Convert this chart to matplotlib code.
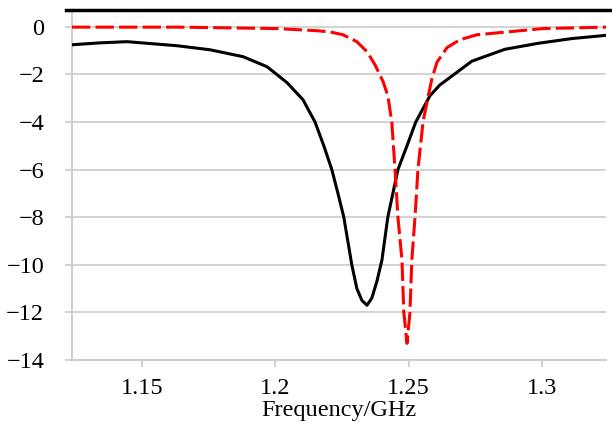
import matplotlib
matplotlib.use('Agg')
import matplotlib.pyplot as plt
from matplotlib.lines import Line2D

plt.rcParams['font.family'] = ['Liberation Serif', 'DejaVu Serif']

# Frequency (GHz) and S11 (dB)
freq_black = [1.1238, 1.1343, 1.1444, 1.1631, 1.1755, 1.1879, 1.1969, 1.2044,
              1.2104, 1.2149, 1.2182, 1.2212, 1.2235, 1.2257, 1.2272, 1.2287,
              1.2306, 1.2325, 1.2344, 1.2362, 1.2381, 1.2400, 1.2422, 1.2441,
              1.2460, 1.2494, 1.2527, 1.2580, 1.2617, 1.2737, 1.2861, 1.2985,
              1.3112, 1.3244]
s11_black = [-0.76, -0.68, -0.63, -0.80, -0.97, -1.26, -1.68, -2.35,
             -3.07, -4.0, -5.0, -6.0, -7.0, -8.0, -9.0, -10.0,
             -11.0, -11.5, -11.7, -11.4, -10.7, -9.8, -8.0, -7.0,
             -6.0, -5.0, -4.0, -2.9, -2.45, -1.45, -0.95, -0.7,
             -0.5, -0.36]

freq_red = [1.1238, 1.1642, 1.2006, 1.2156, 1.2205, 1.2254, 1.2306, 1.2344,
            1.2374, 1.2404, 1.2422, 1.2437, 1.2449, 1.2460, 1.2475, 1.2482,
            1.2494, 1.2505, 1.2512, 1.2524, 1.2535, 1.2554, 1.2572, 1.2587,
            1.2606, 1.2644, 1.2692, 1.2756, 1.2880, 1.3004, 1.3244]
s11_red = [-0.02, -0.02, -0.08, -0.17, -0.22, -0.34, -0.63, -1.05,
           -1.6, -2.3, -2.9, -4.0, -6.0, -8.0, -9.8, -12.0,
           -13.3, -12.0, -9.8, -8.0, -6.0, -4.0, -3.0, -2.2,
           -1.5, -0.88, -0.55, -0.34, -0.21, -0.08, -0.02]

x_ticks = [1.15, 1.2, 1.25, 1.3]
x_tick_labels = ['1.15', '1.2', '1.25', '1.3']
y_ticks = [0, -2, -4, -6, -8, -10, -12, -14]

fig = plt.figure(figsize=(6.12, 4.30), dpi=100)
ax = fig.add_axes([72 / 612, 1 - 360 / 430, (606 - 72) / 612, (360 - 10) / 430])

# сетка
for y in y_ticks[:-1]:
    ax.axhline(y, color='#cfcfcf', lw=1.3, zorder=0)

ax.plot(freq_black, s11_black, color='black', lw=2.2, zorder=3,
        solid_joinstyle='round')
ax.plot(freq_red, s11_red, color='#ff0000', lw=2.2, dashes=(6, 1.7), zorder=4)

ax.set_xlim(1.1238, 1.324)
ax.set_ylim(-14, 0.7)

ax.set_xticks(x_ticks)
ax.set_xticklabels(x_tick_labels)
ax.set_yticks(y_ticks)
ax.tick_params(axis='x', length=5, width=1.3, color='#cfcfcf', pad=8, labelsize=17.5)
ax.tick_params(axis='y', length=5, width=1.3, color='#cfcfcf', pad=15, labelsize=17.5)

for side in ['top', 'right']:
    ax.spines[side].set_visible(False)
ax.spines['left'].set_color('#cfcfcf')
ax.spines['bottom'].set_color('#cfcfcf')
ax.spines['left'].set_linewidth(1.5)
ax.spines['bottom'].set_linewidth(1.5)

ax.set_xlabel('Frequency/GHz', fontsize=17.5, labelpad=1)

# верхняя черная линия
fig.add_artist(Line2D([66 / 612, 1.0], [1 - 10 / 430, 1 - 10 / 430],
                      color='black', lw=2.5))

fig.savefig('out.png', dpi=100)
